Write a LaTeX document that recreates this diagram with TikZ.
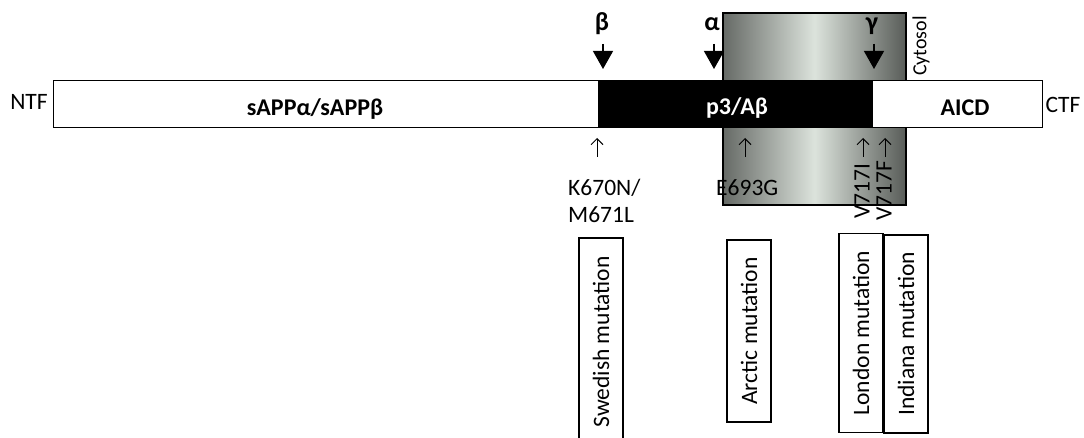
\documentclass[tikz,border=0pt]{standalone}
\usepackage{fontspec}
\setmainfont{Carlito}
\usepackage{tikz}
\usetikzlibrary{arrows.meta,positioning,calc}
\definecolor{memdark}{RGB}{102,106,102}
\definecolor{memlight}{RGB}{220,227,220}
\definecolor{memdarkr}{RGB}{88,92,88}
\tikzset{
    % pieces of the APP bar
    segbox/.style={
        draw=black,
        fill=white,
        line width=1.3pt,
        minimum height=47pt,
        inner sep=0pt,
        anchor=north west
    },
    membrane/.style={
        draw=black,
        line width=1.3pt,
        left color=memdark,
        right color=memdarkr,
        middle color=memlight
    },
    barlabel/.style={font=\fontsize{24}{28}\selectfont\bfseries, anchor=base},
    cutlabel/.style={font=\fontsize{26}{30}\selectfont\bfseries, anchor=base},
    plainlabel/.style={font=\fontsize{23.5}{27}\selectfont},
    mutbox/.style={
        draw=black,
        line width=1.3pt,
        rotate=90,
        minimum height=44pt,
        inner sep=0pt,
        font=\fontsize{23.5}{27}\selectfont
    },
    cutarrow/.style={
        line width=1.3pt,
        black,
        -{Triangle[length=18pt, width=20pt]}
    },
    sitearrow/.style={
        line width=1pt,
        black,
        -{Straight Barb[length=6pt, width=12pt]}
    }
}

\begin{document}
\begin{tikzpicture}[x=1pt, y=-1pt]
        \useasboundingbox (0,0) rectangle (1084,438);

        % membrane
        \path[membrane] (723,13) rectangle (906,205);

        % APP
        \node[segbox, minimum width=545pt] (ntfseg) at (53,80) {};
        \node[segbox, fill=black, minimum width=274pt] (abseg) at (598,80) {};
        \node[segbox, minimum width=170pt] (ctfseg) at (872,80) {};

        \node[barlabel] (sapp) at (315,116) {sAPPα/sAPPβ};
        \node[barlabel, white] (p3ab) at (737,115) {p3/Aβ};
        \node[barlabel] (aicd) at (965,116) {AICD};
        \node[plainlabel, anchor=base] (ntf) at (29,110) {NTF};
        \node[plainlabel, anchor=base] (ctf) at (1063,113) {CTF};
        \node[rotate=90, font=\fontsize{20}{23}\selectfont] (cytosol) at (921,46) {Cytosol};

        % secretases
        \path
        (603,44) coordinate (betatop)
        (603,69) coordinate (betatip)
        (714,44) coordinate (alphatop)
        (714,69) coordinate (alphatip)
        (874,44) coordinate (gammatop)
        (874,69) coordinate (gammatip)
        ;
        \node[cutlabel] (beta) at (602,31) {β};
        \node[cutlabel] (alpha) at (712,31) {α};
        \node[cutlabel] (gamma) at (872,31) {γ};
        \draw[cutarrow] (betatop) to (betatip);
        \draw[cutarrow] (alphatop) to (alphatip);
        \draw[cutarrow] (gammatop) to (gammatip);

        % mutation sites
        \path
        (597,157) coordinate (swfoot)
        (597,138) coordinate (swhead)
        (745,157) coordinate (arfoot)
        (745,138) coordinate (arhead)
        (863,157) coordinate (lofoot)
        (863,138) coordinate (lohead)
        (885,157) coordinate (infoot)
        (885,138) coordinate (inhead)
        ;
        \draw[sitearrow] (swfoot) to (swhead);
        \draw[sitearrow] (arfoot) to (arhead);
        \draw[sitearrow] (lofoot) to (lohead);
        \draw[sitearrow] (infoot) to (inhead);

        \node[plainlabel, anchor=base west, inner sep=0pt] (k670n) at (568,196) {K670N/};
        \node[plainlabel, anchor=base west, inner sep=0pt] (m671l) at (568,223) {M671L};
        \node[plainlabel, anchor=base west, inner sep=0pt] (e693g) at (716,196) {E693G};
        \node[plainlabel, rotate=90, inner sep=0pt] (v717i) at (862,191) {V717I};
        \node[plainlabel, rotate=90, inner sep=0pt] (v717f) at (884,191) {V717F};

        % families
        \node[mutbox, minimum width=208pt] (swedish) at (601,342) {Swedish mutation};
        \node[mutbox, minimum width=182pt] (arctic) at (749,331) {Arctic mutation};
        \node[mutbox, minimum width=199pt] (london) at (861,333) {London mutation};
        \node[mutbox, minimum width=198pt] (indiana) at (906,334) {Indiana mutation};

\end{tikzpicture}
\end{document}
